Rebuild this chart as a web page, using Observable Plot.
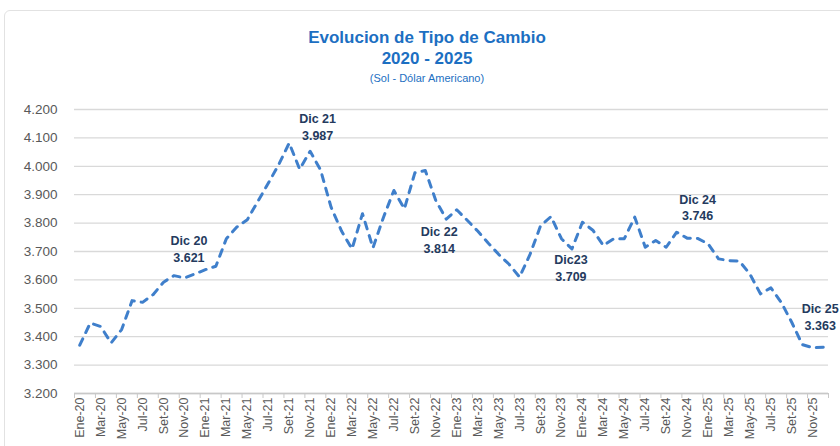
<!DOCTYPE html>
<html>
<head>
<meta charset="utf-8">
<script src="https://cdn.jsdelivr.net/npm/d3@7"></script>
<script src="https://cdn.jsdelivr.net/npm/@observablehq/plot@0.6"></script>
<style>
  html, body { margin: 0; padding: 0; background: #ffffff; }
  #wrap { position: relative; width: 840px; height: 446px; overflow: hidden; font-family: "Liberation Sans", Arial, sans-serif; }
  #frame { position: absolute; left: 4px; top: 10px; width: 870px; height: 470px; border: 1px solid #e2e2e2; border-radius: 6px; box-sizing: border-box; }
  #titles { position: absolute; left: 0; top: 0; width: 854px; height: 90px; text-align: center; color: #1c6fc2; }
  #titles div { position: absolute; left: 0; width: 100%; white-space: nowrap; }
  .t1 { top: 29px; font-size: 17px; line-height: 17px; font-weight: bold; }
  .t2 { top: 50px; font-size: 17px; line-height: 17px; font-weight: bold; }
  .t3 { top: 73px; font-size: 11px; line-height: 11px; }
  #chart { position: absolute; left: 0; top: 90px; }
</style>
</head>
<body>
<div id="wrap">
  <div id="frame"></div>
  <div id="titles">
    <div class="t1">Evolucion de Tipo de Cambio</div>
    <div class="t2">2020 - 2025</div>
    <div class="t3">(Sol - Dólar Americano)</div>
  </div>
  <div id="chart"></div>
</div>
<script>
// ---- Data ----
const months = [
  "Ene-20","Feb-20","Mar-20","Abr-20","May-20","Jun-20","Jul-20","Ago-20","Set-20","Oct-20","Nov-20","Dic-20",
  "Ene-21","Feb-21","Mar-21","Abr-21","May-21","Jun-21","Jul-21","Ago-21","Set-21","Oct-21","Nov-21","Dic-21",
  "Ene-22","Feb-22","Mar-22","Abr-22","May-22","Jun-22","Jul-22","Ago-22","Set-22","Oct-22","Nov-22","Dic-22",
  "Ene-23","Feb-23","Mar-23","Abr-23","May-23","Jun-23","Jul-23","Ago-23","Set-23","Oct-23","Nov-23","Dic-23",
  "Ene-24","Feb-24","Mar-24","Abr-24","May-24","Jun-24","Jul-24","Ago-24","Set-24","Oct-24","Nov-24","Dic-24",
  "Ene-25","Feb-25","Mar-25","Abr-25","May-25","Jun-25","Jul-25","Ago-25","Set-25","Oct-25","Nov-25","Dic-25"
];
const values = [
  3.370, 3.448, 3.436, 3.378, 3.425, 3.527, 3.521, 3.548, 3.592, 3.615, 3.607, 3.621,
  3.636, 3.648, 3.745, 3.786, 3.812, 3.876, 3.940, 4.006, 4.082, 3.990, 4.053, 3.987,
  3.856, 3.772, 3.709, 3.833, 3.713, 3.820, 3.915, 3.850, 3.977, 3.985, 3.880, 3.814,
  3.847, 3.810, 3.772, 3.730, 3.690, 3.655, 3.610, 3.690, 3.790, 3.823, 3.745, 3.709,
  3.803, 3.775, 3.721, 3.745, 3.745, 3.821, 3.715, 3.739, 3.715, 3.768, 3.747, 3.746,
  3.727, 3.674, 3.668, 3.666, 3.620, 3.551, 3.572, 3.520, 3.450, 3.372, 3.361, 3.363
];
const yTicks = [3.2, 3.3, 3.4, 3.5, 3.6, 3.7, 3.8, 3.9, 4.0, 4.1, 4.2];
const annotMonths = ["Dic-20", "Dic-21", "Dic-22", "Dic-23", "Dic-24", "Dic-25"];
const annotLabels = ["Dic 20", "Dic 21", "Dic 22", "Dic23", "Dic 24", "Dic 25"];
const annotValues = [3.621, 3.987, 3.814, 3.709, 3.746, 3.363];

// ---- Layout (pixel nudges for the labels, not data) ----
const nudges = {
  "Dic 20": {dx: -6, dy: -12, anchor: "bottom"},
  "Dic 21": {dx: -3, dy: -30, anchor: "bottom"},
  "Dic 22": {dx: -7, dy: 5,   anchor: "top"},
  "Dic23":  {dx: -1, dy: 3,   anchor: "top"},
  "Dic 24": {dx: 0,  dy: -18, anchor: "bottom"},
  "Dic 25": {dx: -3, dy: -17, anchor: "bottom"}
};

const series = months.map((m, i) => ({i, m, v: values[i]}));
const annots = annotMonths.map((m, k) => ({
  i: months.indexOf(m), v: annotValues[k],
  text: annotLabels[k] + "\n" + annotValues[k].toFixed(3), key: annotLabels[k]
}));
const labelTicks = d3.range(0, months.length, 2);
const boundaryTicks = d3.range(-0.5, months.length, 2).concat([months.length - 0.5]);

const annotMarks = annots.map(a => Plot.text([a], {
  x: "i", y: "v", text: "text",
  dx: nudges[a.key].dx, dy: nudges[a.key].dy,
  lineAnchor: nudges[a.key].anchor, lineHeight: 1.35,
  fontSize: 12.5, fontWeight: "bold", fill: "#243a5e"
}));

const chart = Plot.plot({
  width: 840,
  height: 356,
  marginLeft: 74,
  marginRight: 12,
  marginTop: 19,
  marginBottom: 53,
  style: {fontFamily: "'Liberation Sans', Arial, sans-serif", background: "transparent", overflow: "visible"},
  x: {type: "linear", domain: [-0.5, months.length - 0.5], axis: null, label: null},
  y: {domain: [3.2, 4.2], axis: null, label: null},
  marks: [
    Plot.gridY(yTicks, {stroke: "#d9d9d9", strokeOpacity: 1, strokeWidth: 1.3}),
    Plot.axisY(yTicks, {label: null, tickSize: 0, tickPadding: 17, tickFormat: d => d.toFixed(3), fontSize: 13.5, fill: "#595959"}),
    Plot.ruleY([3.2], {stroke: "#c8c8c8", strokeWidth: 1.3}),
    Plot.axisX(boundaryTicks, {label: null, tickSize: 5, tickFormat: () => "", stroke: "#c8c8c8"}),
    Plot.axisX(labelTicks, {label: null, tickSize: 0, tickPadding: 4, tickRotate: -90, tickFormat: i => months[i], fontSize: 12.5, fill: "#595959"}),
    Plot.line(series, {x: "i", y: "v", stroke: "#3f7fcb", strokeWidth: 3, strokeDasharray: "7,7", strokeLinecap: "round"}),
    ...annotMarks
  ]
});
document.getElementById("chart").appendChild(chart);
</script>
</body>
</html>
